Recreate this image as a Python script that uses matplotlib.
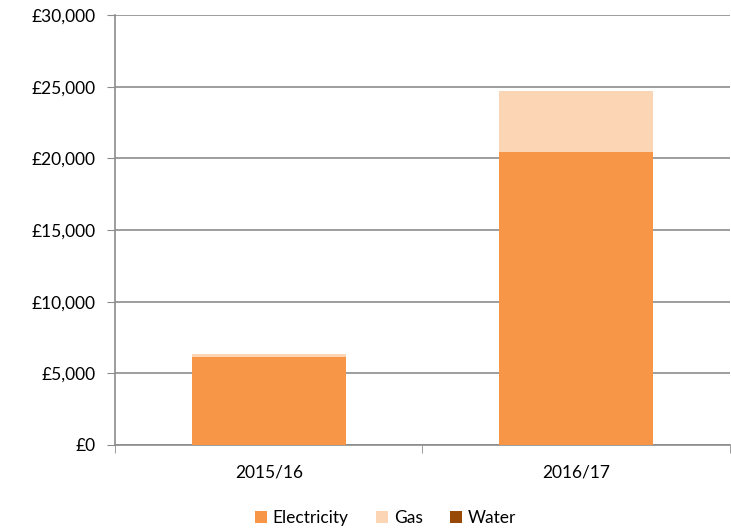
import matplotlib.pyplot as plt
import numpy as np

plt.rcParams['font.family'] = ['Lato', 'DejaVu Sans']

years = ['2015/16', '2016/17']
electricity = [6150, 20440]
gas = [200, 4280]
water = [0, 0]

colors = {'Electricity': '#F79646', 'Gas': '#FCD5B5', 'Water': '#984807'}
grid_c = '#8C8C8C'

fig = plt.figure(figsize=(7.31, 5.30), dpi=100)
ax = fig.add_axes([0.1573, 0.1604, 0.8413, 0.8113])

x = np.arange(len(years))
elec = np.array(electricity)
g = np.array(gas)
w = np.array(water)
ax.bar(x, elec, width=0.5, color=colors['Electricity'], label='Electricity', zorder=3)
ax.bar(x, g, width=0.5, bottom=elec, color=colors['Gas'], label='Gas', zorder=3)
ax.bar(x, w, width=0.5, bottom=elec + g, color=colors['Water'], label='Water', zorder=3)

ax.set_xlim(-0.5, 1.5)
ax.set_ylim(0, 30000)
ax.set_yticks(np.arange(0, 30001, 5000))
ax.set_yticklabels(['£{:,}'.format(v) for v in range(0, 30001, 5000)], fontsize=12.5)
ax.set_xticks(x)
ax.set_xticklabels(years, fontsize=12.5)
ax.set_xticks([-0.5, 0.5, 1.5], minor=True)
ax.tick_params(axis='x', which='major', length=0, pad=14)
ax.tick_params(axis='x', which='minor', length=6, color=grid_c)
ax.tick_params(axis='y', length=6, color=grid_c, pad=8)
ax.yaxis.grid(True, color=grid_c, linewidth=1.2, zorder=0)
for s in ['top', 'right']:
    ax.spines[s].set_visible(False)
for s in ['left', 'bottom']:
    ax.spines[s].set_color(grid_c)
    ax.spines[s].set_linewidth(1.2)

ax.legend(loc='upper center', bbox_to_anchor=(0.44, -0.115), ncol=3, frameon=False,
          fontsize=12.5, handlelength=0.7, handleheight=0.7, handletextpad=0.3,
          columnspacing=1.6)

fig.savefig('out.png', dpi=100)
